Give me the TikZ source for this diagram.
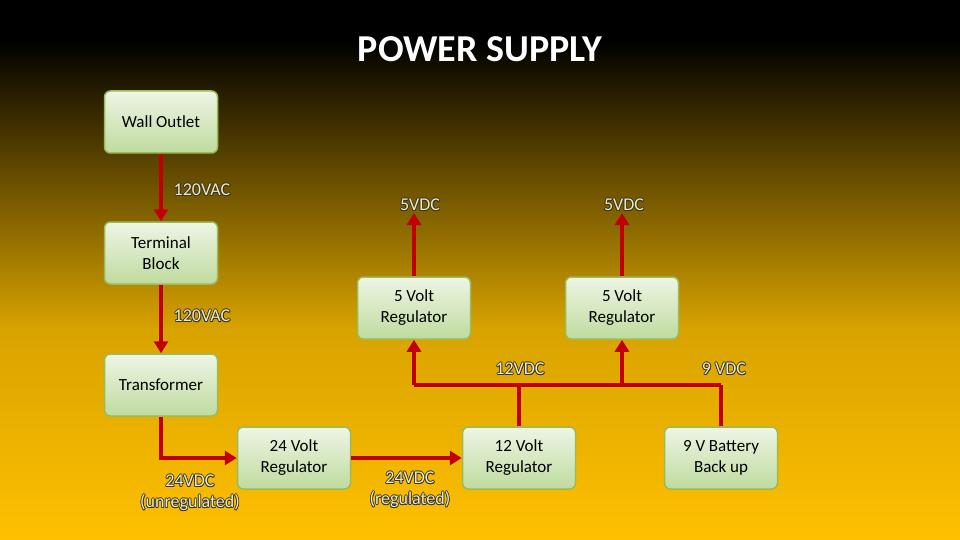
\documentclass[tikz,border=0pt]{standalone}
\usepackage{fontspec}
\setmainfont{Carlito}
\usetikzlibrary{arrows.meta}
\definecolor{gold}{HTML}{FFC000}
\definecolor{boxtop}{HTML}{EEF5E6}
\definecolor{boxbot}{HTML}{BFDB9E}
\definecolor{boxline}{HTML}{9BBB59}
\definecolor{arr}{HTML}{C00000}
\definecolor{lblfill}{HTML}{F5EBB0}
\tikzset{
 box/.style={draw=boxline,line width=1.5pt,rounded corners=6pt,top color=boxtop,bottom color=boxbot,minimum width=113pt,minimum height=62pt,align=center,font=\fontsize{17}{21}\selectfont,text=black},
 con/.style={draw=arr,line width=4pt,-{Triangle[length=12pt,width=14pt]}},
 lin/.style={draw=arr,line width=4pt},
 lbl/.style={align=center,font=\fontsize{18}{21}\selectfont}
}
\newcommand{\myshift}[2]{\rlap{\kern#1\raise#2\copy0}}
\newcommand{\outl}[1]{\leavevmode\setbox0\hbox{\color{black!80}#1}%
 \myshift{-0.8pt}{0pt}\myshift{0.8pt}{0pt}\myshift{0pt}{0.8pt}\myshift{0pt}{-0.8pt}%
 \myshift{-0.6pt}{0.6pt}\myshift{0.6pt}{0.6pt}\myshift{-0.6pt}{-0.6pt}\myshift{0.6pt}{-0.6pt}%
 {\color{lblfill}#1}}
\begin{document}
\begin{tikzpicture}[x=1pt,y=-1pt]
\fill[black] (0,0) rectangle (960,40);
\shade[top color=black,bottom color=gold!85!black] (0,40) rectangle (960,330);
\shade[top color=gold!85!black,bottom color=gold] (0,329) rectangle (960,540);
\useasboundingbox (0,0) rectangle (960,540);
\node[text=white,font=\bfseries\fontsize{38}{42}\selectfont] (title) at (480,49) {POWER SUPPLY};
\node[box] (wall) at (161,122) {Wall Outlet};
\node[box] (term) at (161,253) {Terminal\\Block};
\node[box] (trans) at (161,385) {Transformer};
\node[box] (r24) at (294,458) {24 Volt\\Regulator};
\node[box] (r5a) at (414,308) {5 Volt\\Regulator};
\node[box] (r5b) at (622,308) {5 Volt\\Regulator};
\node[box] (r12) at (519,458) {12 Volt\\Regulator};
\node[box] (bat) at (721,458) {9 V Battery\\Back up};
\coordinate (bus12) at (519,385);
\coordinate (busL) at (414,385);
\coordinate (busR) at (721,385);
\coordinate (o5a) at (414,213);
\coordinate (o5b) at (622,213);
\draw[con] (wall) -- (term);
\draw[con] (term) -- (trans);
\draw[con] (trans.south) |- (r24.west);
\draw[con] (r24) -- (r12);
\draw[lin] (r12.north) -- (bus12);
\draw[lin] (busL) -- (busR);
\draw[lin] (bat.north) -- (busR);
\draw[con] (busL) -- (r5a.south);
\draw[con] (622,385) -- (r5b.south);
\draw[con] (r5a.north) -- (o5a);
\draw[con] (r5b.north) -- (o5b);
\node[lbl] (l1) at (202,190) {\outl{120VAC}};
\node[lbl] (l2) at (202,316) {\outl{120VAC}};
\node[lbl] (l3) at (420,205) {\outl{5VDC}};
\node[lbl] (l4) at (624,205) {\outl{5VDC}};
\node[lbl] (l5) at (520,369) {\outl{12VDC}};
\node[lbl] (l6) at (724,369) {\outl{9 VDC}};
\node[lbl] (l7) at (190,493) {\outl{24VDC}\\\outl{(unregulated)}};
\node[lbl] (l8) at (410,490) {\outl{24VDC}\\\outl{(regulated)}};
\end{tikzpicture}
\end{document}
